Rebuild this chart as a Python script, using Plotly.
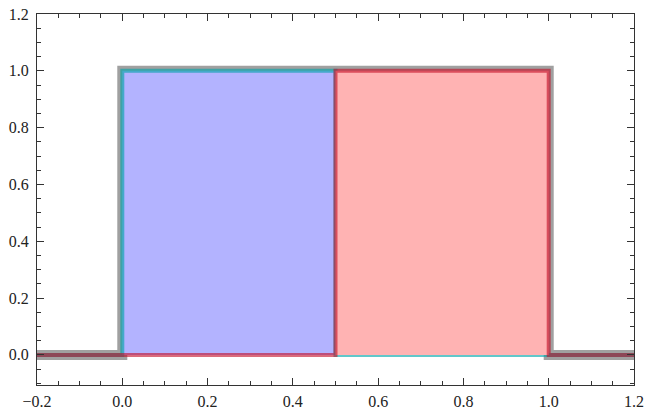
import plotly.graph_objects as go

# Data: step functions sampled at their breakpoints
x_total = [-0.2, 0.0, 0.0, 1.0, 1.0, 1.2]
y_total = [0, 0, 1, 1, 0, 0]

x_blue = [-0.2, 0.0, 0.0, 0.5, 0.5, 1.2]
y_blue = [0, 0, 1, 1, 0, 0]

x_red = [-0.2, 0.5, 0.5, 1.0, 1.0, 1.2]
y_red = [0, 0, 1, 1, 0, 0]

x_ticks = [-0.2, 0.0, 0.2, 0.4, 0.6, 0.8, 1.0, 1.2]
x_ticklabels = ["\u22120.2", "0.0", "0.2", "0.4", "0.6", "0.8", "1.0", "1.2"]
y_ticks = [0.0, 0.2, 0.4, 0.6, 0.8, 1.0, 1.2]
y_ticklabels = ["0.0", "0.2", "0.4", "0.6", "0.8", "1.0", "1.2"]

fig = go.Figure()
fig.add_trace(go.Scatter(x=x_total, y=y_total, mode="lines",
                         line=dict(color="#a0a0a0", width=10),
                         hoverinfo="skip", showlegend=False))
fig.add_trace(go.Scatter(x=x_blue, y=y_blue, mode="lines", fill="tozeroy",
                         fillcolor="#b3b3ff",
                         line=dict(color="rgba(0,165,170,0.62)", width=4),
                         hoverinfo="skip", showlegend=False))
fig.add_trace(go.Scatter(x=x_red, y=y_red, mode="lines", fill="tozeroy",
                         fillcolor="#ffb3b3",
                         line=dict(color="rgba(195,10,35,0.6)", width=4),
                         hoverinfo="skip", showlegend=False))

axis_common = dict(
    showgrid=False, zeroline=False, showline=True, linecolor="#333333",
    linewidth=1, mirror="ticks", ticks="inside", ticklen=7, tickwidth=1,
    tickcolor="#333333", automargin=False,
    tickfont=dict(family="Liberation Serif", size=16, color="#222222"),
)

fig.update_xaxes(range=[-0.2, 1.2], tickvals=x_ticks, ticktext=x_ticklabels,
                 ticklabelstandoff=2,
                 minor=dict(dtick=0.05, tick0=0, ticks="inside", ticklen=4,
                            tickcolor="#333333"),
                 **axis_common)
fig.update_yaxes(range=[-0.106, 1.2], tickvals=y_ticks, ticktext=y_ticklabels,
                 ticklabelstandoff=4,
                 minor=dict(dtick=0.05, tick0=0, ticks="inside", ticklen=4,
                            tickcolor="#333333"),
                 **axis_common)

fig.update_layout(width=645, height=412, margin=dict(l=37, r=11, t=14, b=27),
                  plot_bgcolor="white", paper_bgcolor="white")

fig.write_html("out.html",
               config={"displayModeBar": False},
               post_script="document.body.style.margin='0';"
                           "document.body.style.overflow='hidden';")
